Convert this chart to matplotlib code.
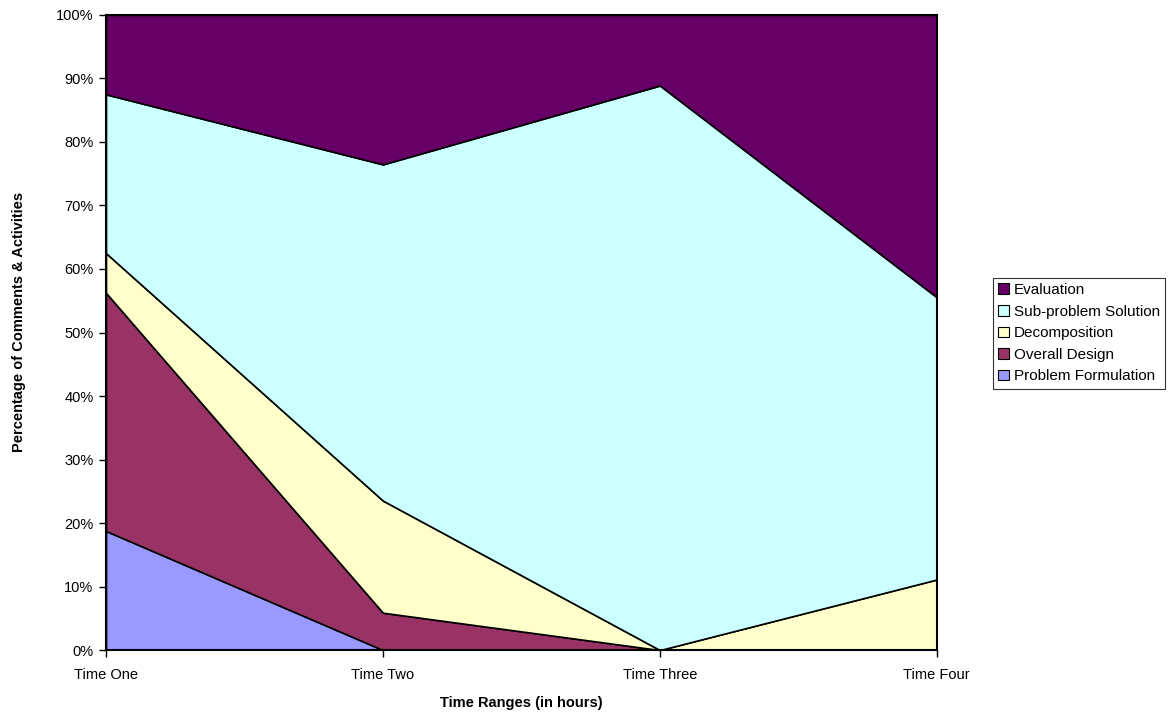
import numpy as np
import matplotlib.pyplot as plt
from matplotlib.patches import Patch
from matplotlib.ticker import PercentFormatter

plt.rcParams['font.family'] = ['Liberation Sans', 'DejaVu Sans']

# share of comments & activities per time range (%)
times = ['Time One', 'Time Two', 'Time Three', 'Time Four']
problem_formulation = [18.75, 0.0, 0.0, 0.0]
overall_design = [37.5, 5.88, 0.0, 0.0]
decomposition = [6.25, 17.65, 0.0, 11.11]
subproblem = [25.0, 52.94, 88.89, 44.44]
evaluation = [12.5, 23.53, 11.11, 44.45]

names = ['Problem Formulation', 'Overall Design', 'Decomposition',
         'Sub-problem Solution', 'Evaluation']
colors = ['#9999FF', '#993366', '#FFFFCC', '#CCFFFF', '#660066']

fig = plt.figure(figsize=(11.71, 7.12), dpi=100)
ax = fig.add_axes([0.0905, 0.087, 0.7095, 0.892])

x = np.arange(len(times))
ax.stackplot(x, problem_formulation, overall_design, decomposition,
             subproblem, evaluation, colors=colors,
             edgecolor='black', linewidth=1.2)

ax.set_xlim(0, len(times) - 1)
ax.set_ylim(0, 100)
ax.set_xticks(x)
ax.set_xticklabels(times, fontsize=10.5)
ax.set_yticks(np.arange(0, 101, 10))
ax.yaxis.set_major_formatter(PercentFormatter(decimals=0))
ax.tick_params(axis='y', labelsize=10.5, length=5, width=1, pad=4)
ax.tick_params(axis='x', length=5, width=1, pad=8)
for s in ax.spines.values():
    s.set_linewidth(1.5)

ax.set_xlabel('Time Ranges (in hours)', fontsize=10.5, fontweight='bold', labelpad=10)
ax.set_ylabel('Percentage of Comments & Activities', fontsize=10.5,
              fontweight='bold')
ax.yaxis.set_label_coords(-0.096, 0.517)

handles = [Patch(facecolor=c, edgecolor='black', linewidth=0.8, label=n)
           for c, n in zip(colors, names)][::-1]
leg = fig.legend(handles=handles, loc='center left',
                 bbox_to_anchor=(0.848, 0.532), fontsize=11,
                 frameon=True, fancybox=False, handlelength=0.7,
                 handleheight=0.7, handletextpad=0.3, labelspacing=0.5,
                 borderpad=0.35, borderaxespad=0)
leg.get_frame().set_edgecolor('black')
leg.get_frame().set_linewidth(0.8)

fig.savefig('out.png', dpi=100)
